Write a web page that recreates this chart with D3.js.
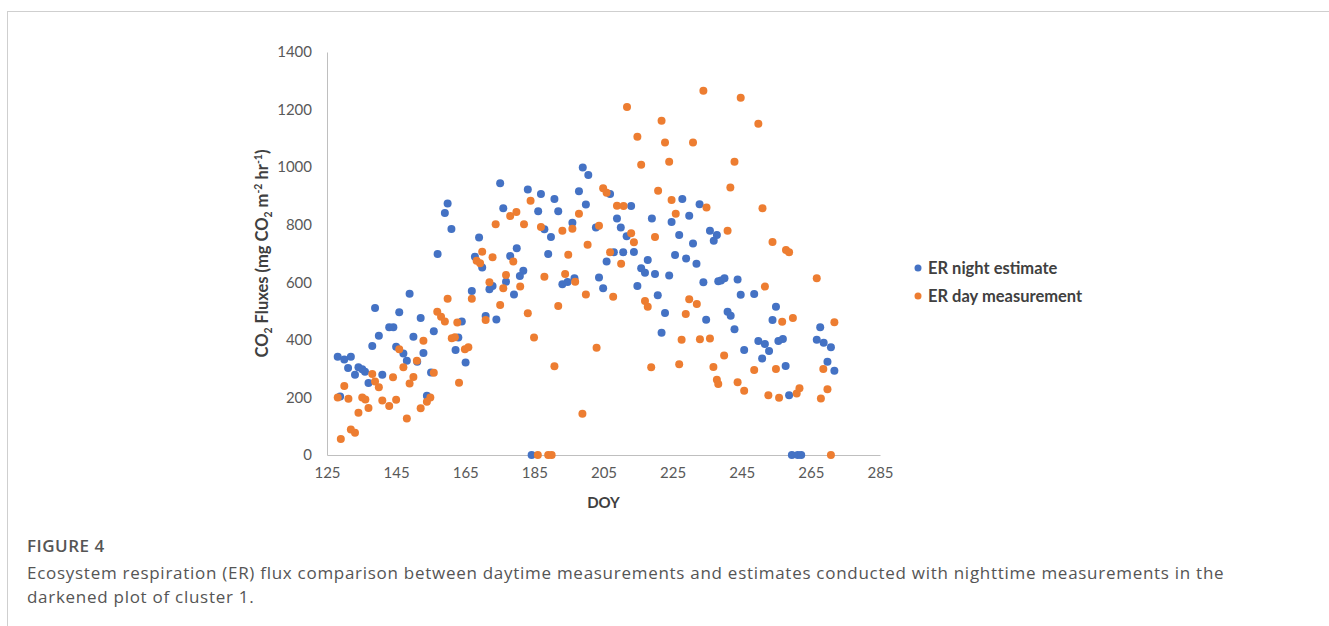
<!DOCTYPE html>
<html>
<head>
<meta charset="utf-8">
<script src="https://cdn.jsdelivr.net/npm/d3@7"></script>
<style>
  body { margin: 0; background: #fff; }
  svg { display: block; }
</style>
</head>
<body>
<svg id="chart"></svg>
<script>
// ER night estimate (blue)
var nightDoy = [157.0,148.9,138.9,145.9,152.1,143.0,144.2,140.0,150.0,155.9,138.1,145.0,147.1,152.9,148.1,151.1,128.1,130.0,131.9,131.1,
  134.1,135.2,136.0,133.1,141.0,137.0,155.1,153.9,128.8,162.2,167.8,169.9,178.0,189.0,181.8,180.8,176.8,172.0,172.9,166.9,
  179.1,193.1,194.6,196.6,170.9,174.0,164.0,163.0,165.1,184.2,199.0,200.6,175.1,183.1,186.9,190.8,197.9,176.0,186.1,191.9,
  199.9,196.0,187.9,189.8,169.0,179.9,159.9,159.1,161.0,206.9,213.0,227.8,232.8,229.8,208.9,219.0,224.7,202.8,210.0,211.7,
  226.9,235.8,237.8,236.9,230.9,208.0,210.7,213.8,225.7,205.9,217.8,228.9,231.9,215.9,217.0,219.9,224.0,203.7,233.9,238.2,
  204.9,214.8,220.7,222.8,234.7,221.8,239.0,240.0,243.8,244.7,248.6,254.9,253.9,240.9,241.8,242.9,249.8,251.7,255.6,256.9,
  252.9,250.9,245.7,257.7,258.7,267.7,266.7,268.7,270.8,269.8,271.8,259.5,261.2,262.2];
var nightFlux = [698,560,511,496,476,444,444,414,411,430,379,376,353,354,327,324,341,332,341,302,
  305,298,289,279,279,250,287,206,203,365,689,651,691,698,640,622,602,576,587,570,
  558,593,601,614,483,471,464,408,321,0,999,973,944,922,907,889,916,857,847,847,
  870,807,784,757,756,718,874,841,785,907,865,889,871,831,822,822,809,790,790,760,
  764,779,764,744,735,704,704,705,695,672,677,683,664,649,633,629,624,617,600,604,
  579,587,555,493,470,425,606,614,610,557,559,515,469,498,484,437,396,386,396,403,
  361,335,365,309,208,444,400,390,374,324,293,0,0,0];

// ER day measurement (orange)
var dayDoy = [159.9,156.9,158.0,159.1,162.7,161.1,162.0,152.9,145.9,151.0,147.1,155.9,138.1,150.0,144.1,138.9,140.0,148.9,130.0,163.2,
  128.1,131.2,135.2,136.1,141.0,143.0,145.0,137.0,134.1,154.9,153.9,152.1,148.1,131.9,133.1,129.0,169.9,172.9,168.3,169.3,
  178.9,194.8,176.8,187.9,193.9,196.8,172.0,176.0,180.9,166.9,199.9,175.1,191.9,183.1,170.9,184.9,164.9,165.9,190.8,198.9,
  186.0,189.0,190.0,183.9,179.8,178.0,173.8,182.0,186.9,197.9,193.1,196.0,200.4,233.9,211.8,221.8,214.8,222.8,230.9,215.9,
  224.0,220.8,204.9,205.9,224.7,234.8,208.9,210.8,225.9,203.7,213.0,213.8,219.9,206.9,210.1,207.8,217.0,217.8,229.8,232.0,
  228.8,227.6,232.9,235.8,203.0,218.8,226.9,236.8,237.8,238.2,244.7,249.8,242.9,241.7,251.0,240.9,253.9,257.8,258.7,251.7,
  266.7,256.7,259.8,271.8,239.9,248.6,254.9,268.6,243.8,245.7,252.7,255.8,260.9,261.7,267.9,269.8,270.8];
var dayFlux = [543,498,480,464,460,406,409,397,367,327,305,286,281,271,270,255,235,248,240,251,
  200,195,200,193,189,170,192,163,147,200,185,162,127,89,77,56,706,687,675,666,
  672,696,625,619,629,602,600,579,585,543,558,521,518,492,469,408,367,374,308,143,
  0,0,0,883,844,830,802,802,792,838,779,786,730,1265,1209,1161,1106,1086,1086,1008,
  1019,918,927,911,886,860,866,865,838,796,770,739,757,704,664,550,535,515,541,525,
  490,400,402,405,373,305,315,306,261,247,1241,1151,1019,929,857,779,740,712,704,585,
  614,463,476,461,346,295,299,299,253,223,208,199,214,232,196,228,0];

var xTicks = [125,145,165,185,205,225,245,265,285];
var yTicks = [0,200,400,600,800,1000,1200,1400];
var seriesNames = ["ER night estimate", "ER day measurement"];
var seriesColors = ["#4472c4", "#ed7d31"];

var W = 1329, H = 626;
var margin = { top: 52, left: 327 },
    width = 880 - 327,
    height = 455 - 52;

var svg = d3.select("#chart").attr("width", W).attr("height", H);

// figure frame
svg.append("rect")
    .attr("x", 7.5).attr("y", 11.5)
    .attr("width", W).attr("height", H)
    .attr("fill", "none").attr("stroke", "#cfcfcf").attr("stroke-width", 1);

var g = svg.append("g").attr("transform", "translate(" + margin.left + "," + margin.top + ")");

var x = d3.scaleLinear().domain([125, 285]).range([0, width]);
var y = d3.scaleLinear().domain([0, 1400]).range([height, 0]);

var tickFont = "Lato, 'Open Sans', sans-serif";

// axes
var xAxis = g.append("g")
    .attr("transform", "translate(0," + height + ")")
    .call(d3.axisBottom(x).tickValues(xTicks).tickSize(0).tickPadding(12).tickFormat(d3.format("d")));
xAxis.select(".domain").attr("stroke", "#bfbfbf");
xAxis.selectAll("text").attr("fill", "#595959").style("font-family", tickFont).style("font-size", "15px");

var yAxis = g.append("g")
    .call(d3.axisLeft(y).tickValues(yTicks).tickSize(0).tickPadding(15).tickFormat(d3.format("d")));
yAxis.select(".domain").attr("stroke", "#bfbfbf");
yAxis.selectAll("text").attr("fill", "#595959").style("font-family", tickFont).style("font-size", "15px");

// axis titles
g.append("text")
    .attr("x", width / 2).attr("y", height + 53)
    .attr("text-anchor", "middle")
    .attr("fill", "#404040")
    .style("font-family", tickFont).style("font-size", "15px").style("font-weight", "bold")
    .text("DOY");

var yt = g.append("text")
    .attr("transform", "translate(-59," + (height / 2) + ") rotate(-90)")
    .attr("text-anchor", "middle")
    .attr("fill", "#404040")
    .style("font-family", tickFont).style("font-size", "16.5px").style("font-weight", "bold");
yt.append("tspan").text("CO");
yt.append("tspan").attr("dy", 4).style("font-size", "10.5px").text("2");
yt.append("tspan").attr("dy", -4).text(" Fluxes (mg CO");
yt.append("tspan").attr("dy", 4).style("font-size", "10.5px").text("2");
yt.append("tspan").attr("dy", -4).text(" m");
yt.append("tspan").attr("dy", -6).style("font-size", "10.5px").text("-2");
yt.append("tspan").attr("dy", 6).text(" hr");
yt.append("tspan").attr("dy", -6).style("font-size", "10.5px").text("-1");
yt.append("tspan").attr("dy", 6).text(")");

// points: night first, day drawn on top
var night = nightDoy.map(function(d, i) { return { doy: d, flux: nightFlux[i] }; });
var day = dayDoy.map(function(d, i) { return { doy: d, flux: dayFlux[i] }; });

g.selectAll(".night")
    .data(night)
    .enter().append("circle")
    .attr("class", "night")
    .attr("cx", function(d) { return x(d.doy); })
    .attr("cy", function(d) { return y(d.flux); })
    .attr("r", 4)
    .attr("fill", seriesColors[0]);

g.selectAll(".day")
    .data(day)
    .enter().append("circle")
    .attr("class", "day")
    .attr("cx", function(d) { return x(d.doy); })
    .attr("cy", function(d) { return y(d.flux); })
    .attr("r", 4)
    .attr("fill", seriesColors[1]);

// legend
var legend = svg.append("g").attr("transform", "translate(918,268)");
seriesNames.forEach(function(name, i) {
    var row = legend.append("g").attr("transform", "translate(0," + (i * 28) + ")");
    row.append("circle").attr("r", 3.5).attr("fill", seriesColors[i]);
    row.append("text")
        .attr("x", 10).attr("dy", "0.35em")
        .attr("fill", "#404040")
        .style("font-family", tickFont).style("font-size", "16.5px").style("font-weight", "bold")
        .text(name);
});

// caption
var capFont = "'Open Sans', 'Noto Sans', sans-serif";
svg.append("text")
    .attr("x", 27).attr("y", 552)
    .attr("fill", "#555")
    .style("font-family", capFont).style("font-size", "17px").style("font-weight", "600")
    .style("letter-spacing", "0.5px")
    .text("FIGURE 4");
svg.append("text")
    .attr("x", 27).attr("y", 579)
    .attr("fill", "#555")
    .style("font-family", capFont).style("font-size", "17px")
    .style("letter-spacing", "0.72px")
    .text("Ecosystem respiration (ER) flux comparison between daytime measurements and estimates conducted with nighttime measurements in the");
svg.append("text")
    .attr("x", 27).attr("y", 603)
    .attr("fill", "#555")
    .style("font-family", capFont).style("font-size", "17px")
    .style("letter-spacing", "0.72px")
    .text("darkened plot of cluster 1.");
</script>
</body>
</html>
